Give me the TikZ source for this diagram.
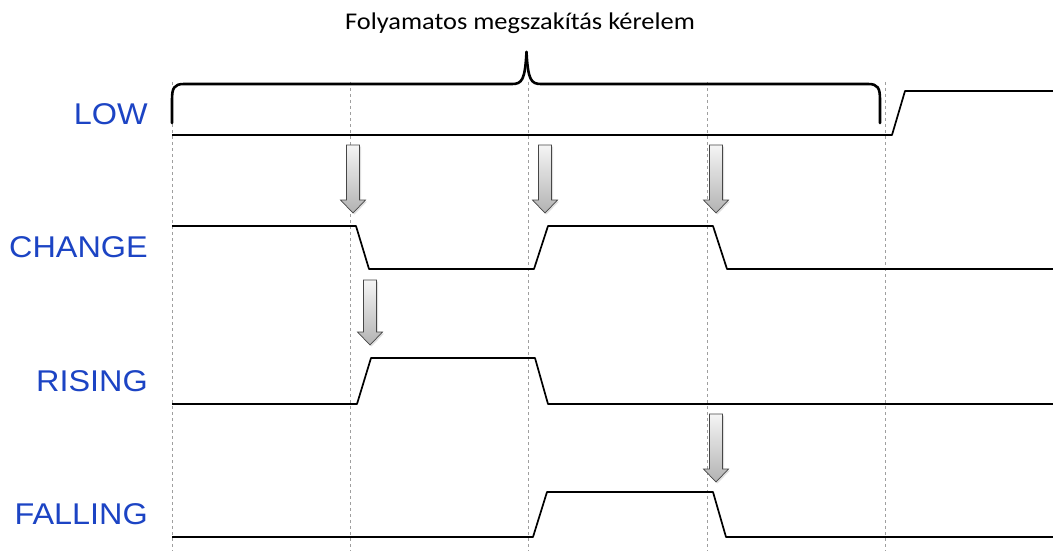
\documentclass[tikz,border=0pt]{standalone}
\usepackage{fontspec}
\setmainfont{Liberation Sans}
\newfontfamily\calfont{Carlito}
\usetikzlibrary{shadows}
\definecolor{lblblue}{RGB}{28,68,196}
\tikzset{
  sig/.style={line width=1.7pt, black, line join=round},
  brace/.style={line width=2.6pt, black, line cap=round},
  grid/.style={gray!75, line width=0.9pt, dash pattern=on 3pt off 3pt},
  lbl/.style={anchor=east, text=lblblue, font=\fontsize{30}{31}\selectfont, inner sep=0pt, xscale=1.08},
  arr/.style={draw=gray!55!black, line width=0.7pt, top color=gray!8, bottom color=gray!60, line join=miter,
    drop shadow={opacity=0.25, shadow xshift=1.5pt, shadow yshift=-1.5pt}},
}
\newcommand\dnarrow[3]{\draw[arr] ({#1-6.5},#2) -- ({#1+6.5},#2) -- ({#1+6.5},{#3-13}) -- ({#1+12.5},{#3-13}) -- (#1,#3) -- ({#1-12.5},{#3-13}) -- ({#1-6.5},{#3-13}) -- cycle;}
\begin{document}
\begin{tikzpicture}[x=1pt,y=-1pt]
\useasboundingbox[fill=white] (0,0) rectangle (1053,551);
% grid lines
\foreach \gx in {172,350,528,707,885} \draw[grid] (\gx,82) -- (\gx,551);
% labels
\node[lbl] (low) at (148,114) {LOW};
\node[lbl] (change) at (148,247) {CHANGE};
\node[lbl] (rising) at (148,381) {RISING};
\node[lbl] (falling) at (148,514) {FALLING};
\node[font=\calfont\fontsize{24}{26}\selectfont, inner sep=0pt, xscale=1.1, anchor=base] (title) at (520,30) {Folyamatos megszakítás kérelem};
% brace
\draw[brace] (172,123) -- (172,100) .. controls (172,88) and (174,84) .. (184,84) -- (512,84)
  .. controls (522,84) and (525,80) .. (526.5,52);
\draw[brace] (526.5,52) .. controls (528,80) and (531,84) .. (541,84) -- (868,84)
  .. controls (878,84) and (880,88) .. (880,100) -- (880,123);
% signals
\draw[sig] (172,135) -- (892,135) -- (905,91) -- (1053,91);
\draw[sig] (172,226) -- (356,226) -- (369,269) -- (534,269) -- (548,226) -- (713,226) -- (727,269) -- (1053,269);
\draw[sig] (172,404) -- (357,404) -- (371,358) -- (535,358) -- (548,404) -- (1053,404);
\draw[sig] (172,537) -- (533,537) -- (547,492) -- (713,492) -- (726,537) -- (1053,537);
% arrows
\dnarrow{353}{145}{213}
\dnarrow{545}{145}{213}
\dnarrow{716}{145}{213}
\dnarrow{370}{280}{345}
\dnarrow{716}{414}{482}
\end{tikzpicture}
\end{document}
